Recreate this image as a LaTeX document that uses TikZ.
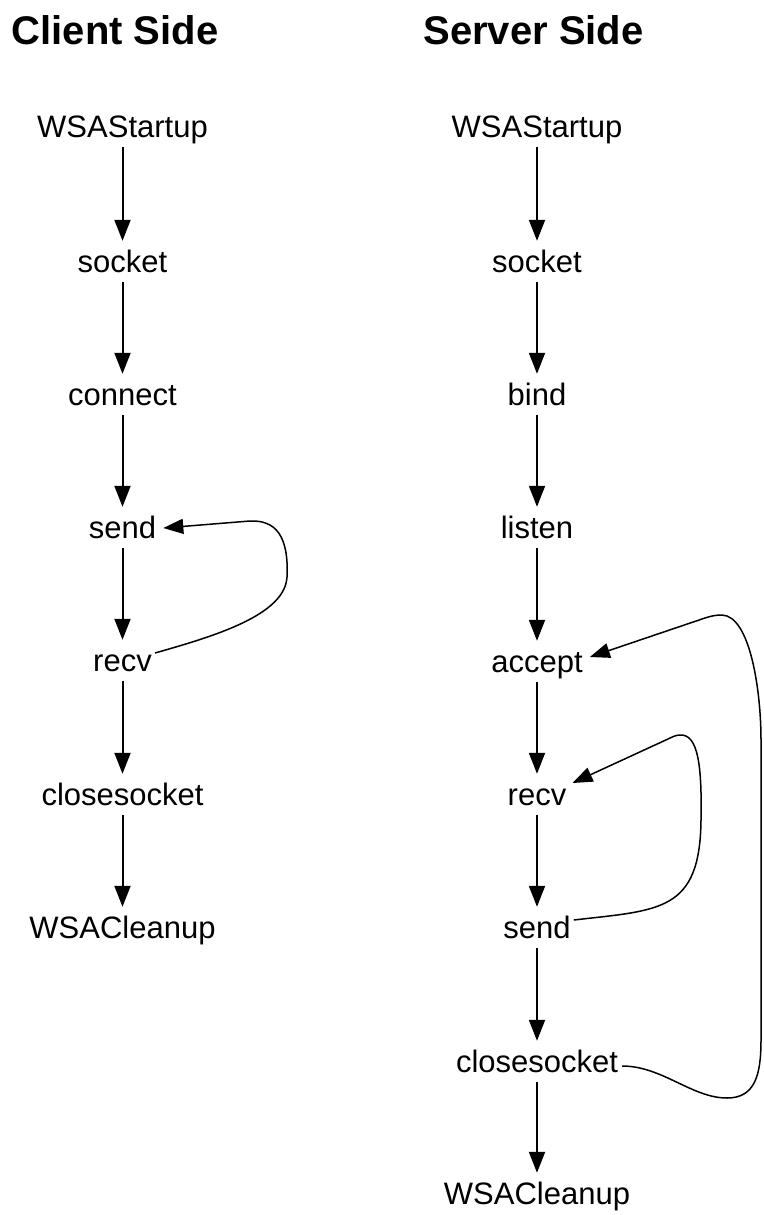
\documentclass[tikz,border=0pt]{standalone}
\usepackage{fontspec}
\setmainfont{Liberation Sans}
\usetikzlibrary{arrows.meta}
\begin{document}
\begin{tikzpicture}[x=1pt,y=-1pt,
  lbl/.style={font=\fontsize{31}{37}\selectfont, anchor=base, text height=23pt, text depth=7pt, inner xsep=2pt, inner ysep=2pt},
  ttl/.style={font=\fontsize{40}{48}\selectfont\bfseries, anchor=base, inner sep=0pt},
  flow/.style={line width=2pt, -{Triangle[length=21pt,width=16pt]}, shorten >=6pt, shorten <=1pt},
  back/.style={line width=1.5pt, -{Triangle[length=20pt,width=15pt]}}]
\useasboundingbox (0,0) rectangle (763,1215);

\node[ttl] (tclient) at (115,45) {Client Side};
\node[ttl] (tserver) at (533.5,45) {Server Side};

% client column
\node[lbl] (c1) at (122.5,137) {WSAStartup};
\node[lbl] (c2) at (122.5,272) {socket};
\node[lbl] (c3) at (122.5,405) {connect};
\node[lbl] (c4) at (122.5,538) {send};
\node[lbl] (c5) at (122.5,671) {recv};
\node[lbl] (c6) at (122.5,805) {closesocket};
\node[lbl] (c7) at (122.5,938) {WSACleanup};

% server column
\node[lbl] (s1) at (537,137) {WSAStartup};
\node[lbl] (s2) at (537,272) {socket};
\node[lbl] (s3) at (537,405) {bind};
\node[lbl] (s4) at (537,538) {listen};
\node[lbl] (s5) at (537,672) {accept};
\node[lbl] (s6) at (537,805) {recv};
\node[lbl] (s7) at (537,938) {send};
\node[lbl] (s8) at (537,1072) {closesocket};
\node[lbl] (s9) at (537,1204) {WSACleanup};

\foreach \a/\b in {c1/c2,c2/c3,c3/c4,c4/c5,c5/c6,c6/c7,
                   s1/s2,s2/s3,s3/s4,s4/s5,s5/s6,s6/s7,s7/s8,s8/s9}
  \draw[flow] (\a) -- (\b);

% client loop recv -> send
\draw[back] ([xshift=1pt,yshift=18pt]c5.base east)
  .. controls (215,636) and (285,615) .. (287,577)
  .. controls (289,535) and (275,520) .. (250,521)
  -- ([xshift=5pt,yshift=10pt]c4.base east);

% server inner loop send -> recv
\draw[back] ([xshift=1pt,yshift=18pt]s7.base east)
  .. controls (660,910) and (700,912) .. (701,820)
  .. controls (702,765) and (698,734) .. (680,735)
  .. controls (676,735) and (672,737) .. (668,739)
  -- ([xshift=4pt,yshift=22pt]s6.base east);

% server outer loop closesocket -> accept
\draw[back] ([xshift=2pt,yshift=6pt]s8.base east)
  .. controls (662,1066) and (692,1098) .. (727,1098)
  .. controls (755,1098) and (761,1075) .. (761,1040)
  -- (761,740)
  .. controls (761,690) and (750,616) .. (722,615)
  .. controls (716,615) and (711,616) .. (705,618)
  -- ([xshift=5pt,yshift=15pt]s5.base east);
\end{tikzpicture}
\end{document}
